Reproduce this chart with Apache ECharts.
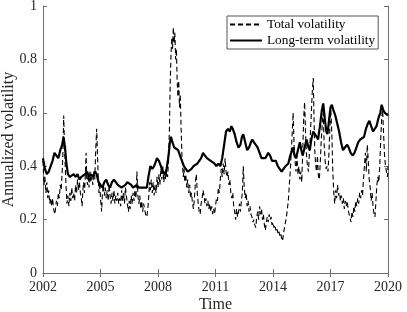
<!DOCTYPE html>
<html>
<head>
<meta charset="utf-8">
<script src="https://cdn.jsdelivr.net/npm/echarts@6/dist/echarts.min.js"></script>
<style>html,body{margin:0;padding:0;background:#fff}#c{width:407px;height:312px}</style>
</head>
<body>
<div id="c"></div>
<script>
const totalYears = [2002.00,2002.05,2002.10,2002.15,2002.20,2002.25,2002.30,2002.35,2002.40,2002.45,2002.50,2002.55,2002.62,2002.70,2002.75,2002.80,2002.85,2002.90,2002.95,2003.00,2003.04,2003.08,2003.12,2003.16,2003.20,2003.25,2003.30,2003.35,2003.40,2003.45,2003.50,2003.55,2003.60,2003.65,2003.70,2003.75,2003.80,2003.85,2003.90,2003.95,2004.00,2004.04,2004.08,2004.12,2004.16,2004.20,2004.25,2004.28,2004.32,2004.36,2004.40,2004.45,2004.50,2004.55,2004.60,2004.65,2004.70,2004.75,2004.80,2004.84,2004.88,2004.92,2004.96,2005.00,2005.06,2005.10,2005.15,2005.20,2005.25,2005.30,2005.35,2005.40,2005.45,2005.50,2005.55,2005.60,2005.65,2005.70,2005.75,2005.80,2005.85,2005.90,2005.95,2006.00,2006.05,2006.10,2006.15,2006.20,2006.25,2006.30,2006.35,2006.40,2006.46,2006.50,2006.55,2006.60,2006.65,2006.70,2006.75,2006.80,2006.85,2006.90,2006.95,2007.00,2007.05,2007.10,2007.15,2007.20,2007.25,2007.30,2007.35,2007.42,2007.48,2007.52,2007.56,2007.60,2007.65,2007.70,2007.75,2007.80,2007.85,2007.90,2007.95,2008.00,2008.05,2008.10,2008.15,2008.20,2008.25,2008.30,2008.35,2008.40,2008.45,2008.50,2008.55,2008.60,2008.64,2008.68,2008.72,2008.76,2008.80,2008.84,2008.88,2008.92,2008.96,2009.00,2009.04,2009.08,2009.12,2009.16,2009.20,2009.24,2009.28,2009.32,2009.36,2009.40,2009.45,2009.50,2009.55,2009.60,2009.65,2009.70,2009.75,2009.80,2009.85,2009.90,2009.95,2010.00,2010.05,2010.10,2010.15,2010.20,2010.25,2010.30,2010.35,2010.40,2010.45,2010.50,2010.55,2010.60,2010.65,2010.70,2010.75,2010.80,2010.85,2010.90,2010.95,2011.00,2011.05,2011.10,2011.15,2011.20,2011.25,2011.30,2011.35,2011.40,2011.45,2011.50,2011.55,2011.60,2011.65,2011.70,2011.75,2011.80,2011.85,2011.90,2011.95,2012.00,2012.05,2012.10,2012.15,2012.20,2012.25,2012.30,2012.35,2012.40,2012.45,2012.50,2012.55,2012.60,2012.65,2012.70,2012.75,2012.80,2012.85,2012.90,2012.95,2013.00,2013.05,2013.10,2013.15,2013.20,2013.25,2013.30,2013.35,2013.40,2013.45,2013.50,2013.55,2013.60,2013.65,2013.70,2013.75,2013.80,2013.85,2013.90,2013.95,2014.00,2014.05,2014.10,2014.15,2014.20,2014.25,2014.30,2014.35,2014.40,2014.45,2014.50,2014.55,2014.60,2014.65,2014.70,2014.75,2014.80,2014.85,2014.90,2014.95,2015.00,2015.05,2015.10,2015.15,2015.20,2015.25,2015.30,2015.35,2015.40,2015.45,2015.50,2015.55,2015.60,2015.65,2015.70,2015.75,2015.80,2015.85,2015.90,2015.95,2016.00,2016.05,2016.10,2016.14,2016.18,2016.22,2016.27,2016.32,2016.37,2016.42,2016.47,2016.52,2016.57,2016.62,2016.67,2016.72,2016.77,2016.82,2016.87,2016.92,2016.97,2017.02,2017.07,2017.12,2017.17,2017.22,2017.27,2017.32,2017.37,2017.42,2017.47,2017.52,2017.57,2017.62,2017.67,2017.72,2017.77,2017.82,2017.87,2017.92,2017.97,2018.02,2018.07,2018.12,2018.17,2018.22,2018.27,2018.32,2018.37,2018.42,2018.47,2018.52,2018.57,2018.62,2018.67,2018.72,2018.77,2018.82,2018.87,2018.92,2018.97,2019.02,2019.07,2019.12,2019.17,2019.22,2019.27,2019.32,2019.37,2019.42,2019.47,2019.52,2019.57,2019.62,2019.67,2019.72,2019.77,2019.82,2019.87,2019.92,2019.97,2020.00];
const totalVals = [0.42,0.33,0.36,0.30,0.34,0.28,0.31,0.26,0.28,0.25,0.28,0.24,0.22,0.27,0.25,0.30,0.28,0.33,0.31,0.38,0.45,0.59,0.48,0.40,0.33,0.26,0.29,0.25,0.30,0.27,0.32,0.28,0.30,0.27,0.33,0.30,0.35,0.31,0.34,0.30,0.28,0.25,0.31,0.34,0.30,0.35,0.45,0.36,0.33,0.37,0.32,0.38,0.34,0.36,0.33,0.38,0.35,0.46,0.54,0.45,0.36,0.30,0.34,0.28,0.23,0.30,0.33,0.29,0.32,0.28,0.31,0.27,0.33,0.29,0.26,0.30,0.27,0.31,0.26,0.29,0.27,0.30,0.26,0.28,0.25,0.31,0.27,0.30,0.26,0.32,0.29,0.26,0.23,0.27,0.24,0.29,0.26,0.30,0.27,0.31,0.28,0.38,0.29,0.26,0.29,0.24,0.27,0.23,0.26,0.24,0.22,0.21,0.25,0.29,0.34,0.31,0.35,0.30,0.34,0.29,0.33,0.30,0.36,0.32,0.37,0.33,0.39,0.35,0.40,0.34,0.37,0.35,0.38,0.36,0.42,0.55,0.72,0.82,0.88,0.84,0.92,0.86,0.90,0.80,0.84,0.72,0.66,0.72,0.62,0.67,0.56,0.46,0.40,0.36,0.39,0.34,0.37,0.32,0.35,0.30,0.33,0.28,0.30,0.26,0.24,0.28,0.34,0.37,0.30,0.26,0.23,0.22,0.26,0.28,0.31,0.29,0.26,0.28,0.25,0.27,0.24,0.26,0.23,0.25,0.22,0.24,0.22,0.25,0.28,0.27,0.32,0.30,0.35,0.39,0.36,0.41,0.37,0.43,0.38,0.36,0.38,0.33,0.35,0.30,0.28,0.30,0.25,0.23,0.20,0.24,0.21,0.23,0.26,0.23,0.27,0.30,0.40,0.32,0.28,0.30,0.25,0.27,0.23,0.25,0.22,0.21,0.19,0.20,0.18,0.17,0.21,0.23,0.20,0.25,0.22,0.24,0.20,0.22,0.18,0.16,0.19,0.21,0.19,0.22,0.20,0.21,0.18,0.19,0.17,0.18,0.16,0.17,0.15,0.16,0.14,0.15,0.13,0.12,0.15,0.17,0.19,0.21,0.24,0.27,0.33,0.38,0.45,0.52,0.60,0.48,0.42,0.38,0.44,0.37,0.40,0.35,0.38,0.34,0.45,0.58,0.64,0.52,0.44,0.40,0.38,0.45,0.52,0.60,0.68,0.73,0.58,0.46,0.41,0.38,0.44,0.36,0.35,0.42,0.50,0.56,0.60,0.48,0.42,0.39,0.40,0.38,0.45,0.55,0.61,0.52,0.38,0.30,0.26,0.31,0.28,0.33,0.29,0.30,0.27,0.29,0.26,0.28,0.24,0.27,0.25,0.27,0.24,0.22,0.21,0.19,0.23,0.21,0.25,0.23,0.27,0.25,0.28,0.26,0.30,0.28,0.31,0.29,0.35,0.40,0.45,0.38,0.48,0.42,0.35,0.32,0.27,0.30,0.25,0.22,0.21,0.27,0.33,0.36,0.34,0.40,0.50,0.58,0.61,0.52,0.44,0.40,0.38,0.36,0.40];
const longYears = [2002.00,2002.10,2002.20,2002.30,2002.40,2002.50,2002.60,2002.70,2002.80,2002.90,2003.00,2003.07,2003.15,2003.22,2003.30,2003.40,2003.50,2003.60,2003.70,2003.80,2003.90,2004.00,2004.10,2004.20,2004.30,2004.40,2004.50,2004.60,2004.72,2004.80,2004.90,2005.00,2005.10,2005.20,2005.30,2005.40,2005.50,2005.60,2005.70,2005.80,2005.90,2006.00,2006.10,2006.20,2006.30,2006.40,2006.48,2006.60,2006.70,2006.80,2006.90,2007.00,2007.10,2007.20,2007.30,2007.42,2007.50,2007.60,2007.70,2007.80,2007.90,2007.95,2008.05,2008.15,2008.25,2008.37,2008.45,2008.55,2008.62,2008.68,2008.75,2008.85,2008.95,2009.05,2009.15,2009.25,2009.35,2009.45,2009.55,2009.65,2009.75,2009.85,2009.95,2010.05,2010.15,2010.25,2010.35,2010.45,2010.55,2010.65,2010.75,2010.85,2010.95,2011.05,2011.15,2011.25,2011.35,2011.45,2011.55,2011.65,2011.75,2011.82,2011.90,2012.00,2012.10,2012.20,2012.30,2012.38,2012.45,2012.55,2012.65,2012.75,2012.85,2012.92,2013.00,2013.10,2013.20,2013.30,2013.40,2013.50,2013.60,2013.68,2013.75,2013.85,2013.95,2014.05,2014.15,2014.25,2014.35,2014.45,2014.55,2014.65,2014.80,2014.90,2015.00,2015.05,2015.12,2015.20,2015.30,2015.40,2015.48,2015.55,2015.65,2015.75,2015.85,2015.92,2016.00,2016.10,2016.18,2016.28,2016.35,2016.45,2016.55,2016.62,2016.70,2016.78,2016.84,2016.92,2017.00,2017.07,2017.15,2017.25,2017.35,2017.45,2017.55,2017.65,2017.75,2017.87,2017.95,2018.05,2018.16,2018.25,2018.35,2018.45,2018.55,2018.65,2018.75,2018.85,2018.95,2019.03,2019.12,2019.22,2019.30,2019.40,2019.50,2019.60,2019.67,2019.75,2019.84,2019.92,2020.00];
const longVals = [0.43,0.39,0.37,0.38,0.40,0.42,0.45,0.44,0.43,0.46,0.48,0.51,0.47,0.41,0.37,0.36,0.36,0.37,0.36,0.37,0.35,0.36,0.36,0.37,0.38,0.36,0.37,0.36,0.38,0.37,0.34,0.33,0.32,0.34,0.35,0.33,0.32,0.34,0.35,0.34,0.33,0.33,0.32,0.32,0.33,0.34,0.345,0.33,0.32,0.32,0.33,0.32,0.32,0.32,0.32,0.32,0.36,0.40,0.39,0.40,0.42,0.43,0.42,0.40,0.38,0.37,0.39,0.44,0.49,0.51,0.49,0.47,0.47,0.46,0.44,0.42,0.40,0.39,0.38,0.38,0.39,0.40,0.40,0.41,0.41,0.43,0.45,0.44,0.43,0.43,0.42,0.42,0.41,0.40,0.41,0.40,0.43,0.48,0.53,0.54,0.53,0.55,0.54,0.52,0.49,0.47,0.48,0.51,0.52,0.49,0.46,0.47,0.49,0.50,0.49,0.48,0.47,0.45,0.43,0.43,0.43,0.44,0.45,0.44,0.42,0.42,0.42,0.40,0.39,0.38,0.39,0.40,0.41,0.44,0.46,0.47,0.44,0.43,0.46,0.49,0.46,0.44,0.47,0.50,0.47,0.46,0.50,0.53,0.53,0.51,0.50,0.55,0.61,0.635,0.58,0.53,0.52,0.57,0.62,0.63,0.61,0.59,0.56,0.53,0.49,0.46,0.47,0.48,0.47,0.45,0.44,0.45,0.47,0.49,0.50,0.50,0.51,0.54,0.56,0.57,0.55,0.53,0.53,0.55,0.58,0.60,0.63,0.61,0.60,0.60,0.59];
const xTicks = [2002, 2005, 2008, 2011, 2014, 2017, 2020];
const yTicks = [0, 0.2, 0.4, 0.6, 0.8, 1];
const seriesNames = ['Total volatility', 'Long-term volatility'];

const zip = (a, b) => a.map((v, i) => [v, b[i]]);
const FONT = 'Liberation Serif';
const AX = '#6e6e6e';
const chart = echarts.init(document.getElementById('c'), null, {renderer: 'canvas'});
const commonX = {
  type: 'value', min: xTicks[0], max: xTicks[xTicks.length - 1], interval: 3,
  axisLine: {show: true, lineStyle: {color: AX, width: 1}},
  axisTick: {show: true, inside: true, length: 4, lineStyle: {color: AX}},
  splitLine: {show: false}
};
const commonY = {
  type: 'value', min: yTicks[0], max: yTicks[yTicks.length - 1], interval: 0.2,
  axisLine: {show: true, lineStyle: {color: AX, width: 1}},
  axisTick: {show: true, inside: true, length: 4, lineStyle: {color: AX}},
  splitLine: {show: false}
};
chart.setOption({
  animation: false,
  backgroundColor: '#fff',
  grid: {left: 43, right: 19, top: 6, bottom: 39, containLabel: false, outerBoundsMode: 'none'},
  legend: {
    data: seriesNames,
    orient: 'vertical', left: 227, top: 16,
    itemWidth: 32, itemHeight: 14, itemGap: 3,
    padding: [2, 3, 2, 2],
    borderColor: '#555', borderWidth: 1, backgroundColor: '#fff',
    itemStyle: {opacity: 0},
    textStyle: {fontFamily: FONT, fontSize: 13.3, color: '#000'}
  },
  xAxis: [
    Object.assign({}, commonX, {
      position: 'bottom',
      name: 'Time', nameLocation: 'middle', nameGap: 23.5, nameMoveOverlap: false,
      nameTextStyle: {fontFamily: FONT, fontSize: 16, color: '#262626'},
      axisLabel: {fontFamily: FONT, fontSize: 14, color: '#262626', margin: 7, formatter: v => String(v)}
    }),
    Object.assign({}, commonX, {position: 'top', axisLabel: {show: false}})
  ],
  yAxis: [
    Object.assign({}, commonY, {
      position: 'left',
      name: 'Annualized volatility', nameLocation: 'middle', nameGap: 26.5, nameMoveOverlap: false,
      nameTextStyle: {fontFamily: FONT, fontSize: 16, color: '#262626'},
      axisLabel: {fontFamily: FONT, fontSize: 14, color: '#262626', margin: 6, formatter: v => String(v)}
    }),
    Object.assign({}, commonY, {position: 'right', axisLabel: {show: false}})
  ],
  series: [
    {
      name: seriesNames[0], type: 'line', xAxisIndex: 0, yAxisIndex: 0,
      data: zip(totalYears, totalVals), symbol: 'none', smooth: false,
      lineStyle: {color: '#000', width: 1.1, type: [5, 3]},
      itemStyle: {color: '#000'}
    },
    {
      name: seriesNames[1], type: 'line', xAxisIndex: 0, yAxisIndex: 0,
      data: zip(longYears, longVals), symbol: 'none', smooth: false,
      lineStyle: {color: '#000', width: 2.2},
      itemStyle: {color: '#000'}
    }
  ]
});
</script>
</body>
</html>
